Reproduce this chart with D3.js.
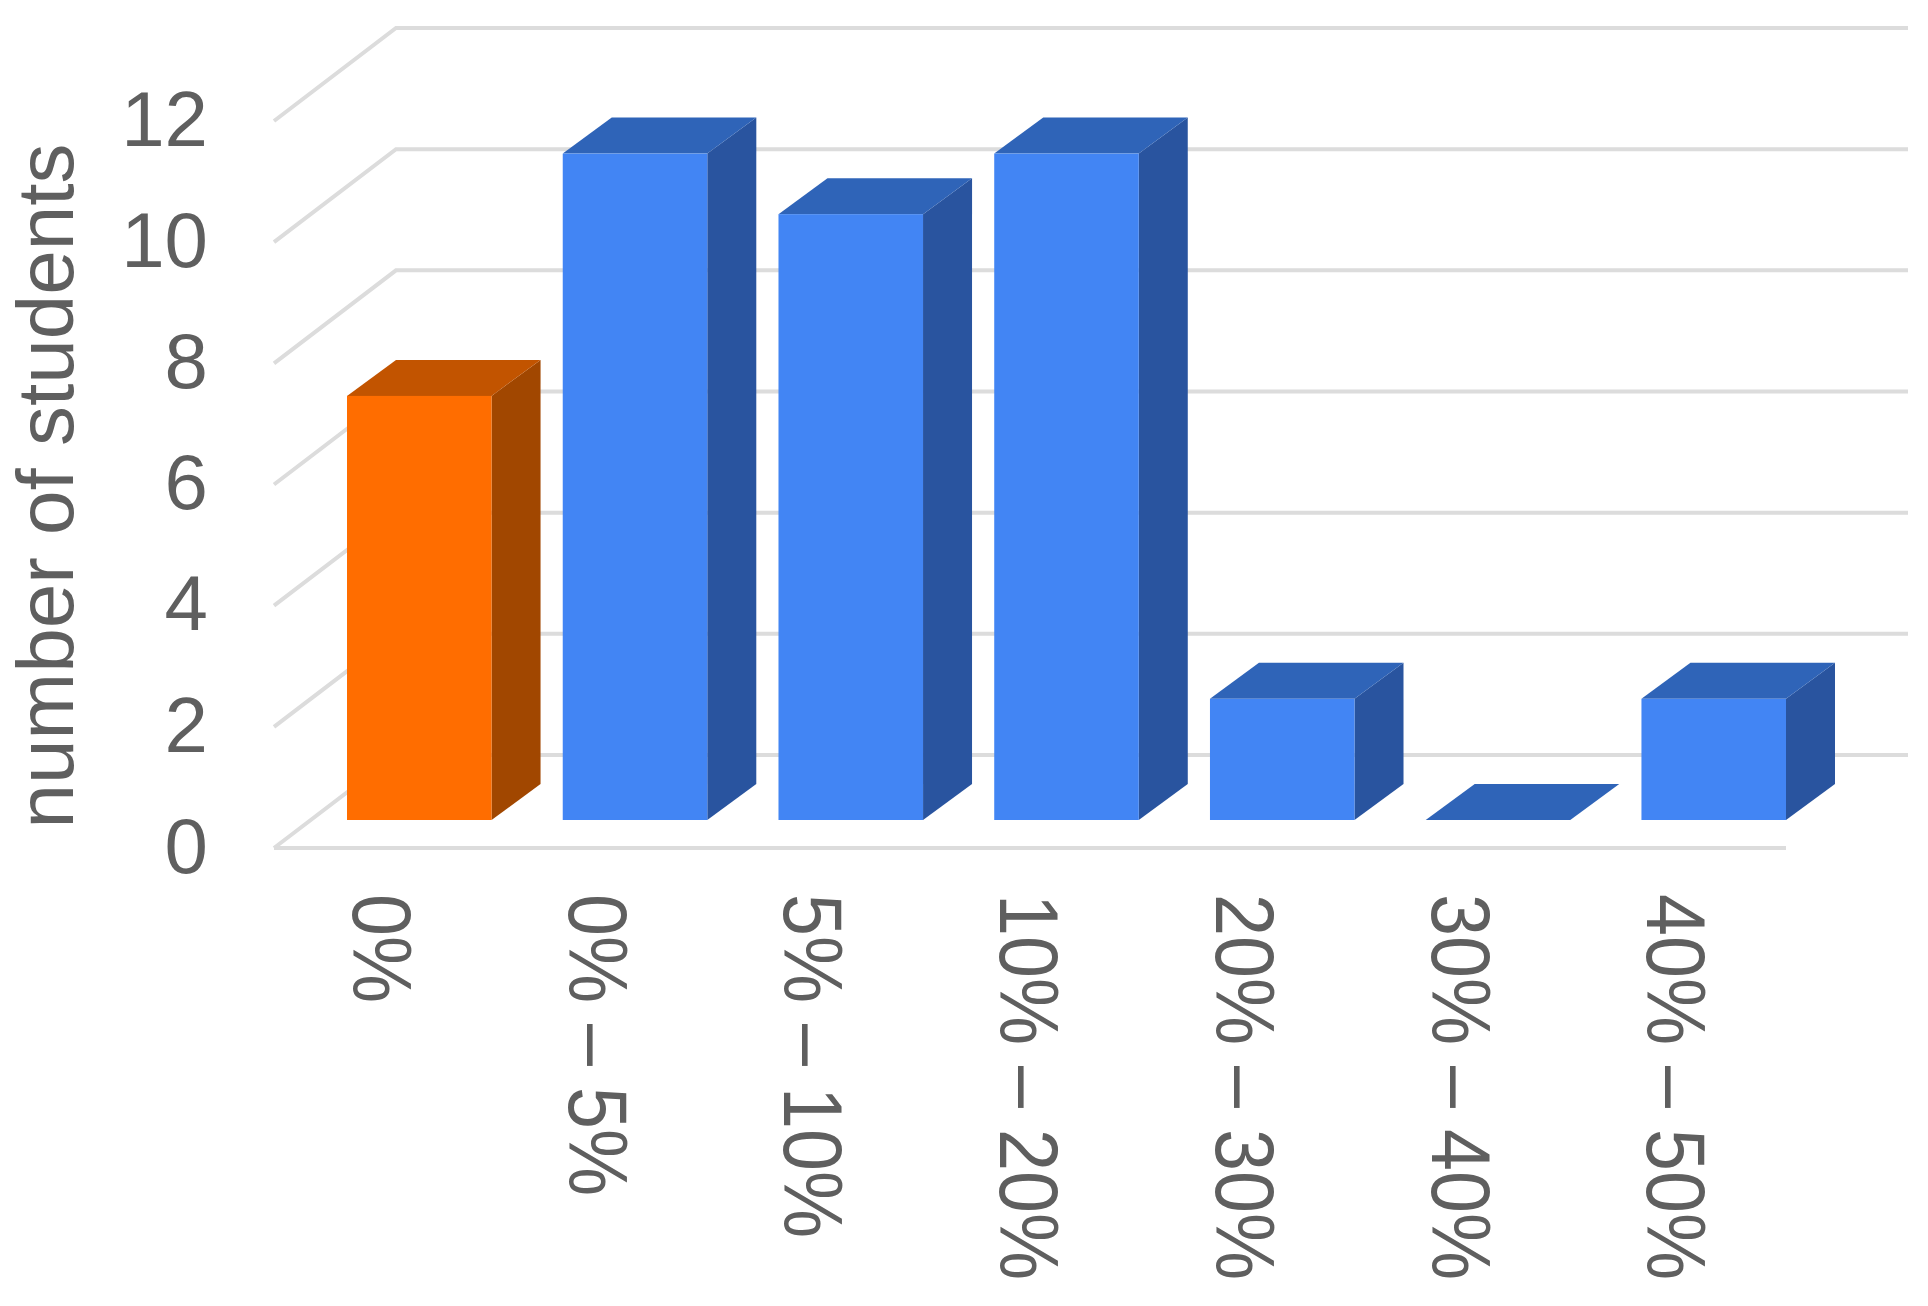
<!DOCTYPE html>
<html>
<head>
<meta charset="utf-8">
<script src="https://cdnjs.cloudflare.com/ajax/libs/d3/7.8.5/d3.min.js"></script>
<style>
  body { margin: 0; background: #fff; overflow: hidden; }
  text { font-family: "Liberation Sans", Arial, sans-serif; fill: #5f5f5f; }
</style>
</head>
<body>
<div id="chart"></div>
<script>
// values
var categories = ["0%", "0% \u2013 5%", "5% \u2013 10%", "10% \u2013 20%", "20% \u2013 30%", "30% \u2013 40%", "40% \u2013 50%"];
var students = [7, 11, 10, 11, 2, 0, 2];
var highlighted = ["0%"];
var yTicks = [0, 2, 4, 6, 8, 10, 12];

var svgWidth = 1928;
var svgHeight = 1306;

// floor front edge, and how far the back wall sits from it
var plot = { left: 274, right: 1786, bottom: 848, top: 121 };
var wall = { dx: 122, dy: -93 };
// bars stand part way back on the floor
var barOffset = { dy: -28 };
var barDepth = { dx: 49, dy: -36 };

var colors = {
    normal: { front: "#4285f4", top: "#2f64b8", side: "#29549f" },
    highlight: { front: "#ff6d00", top: "#c25400", side: "#a14700" }
};

var svg = d3.select("#chart").append("svg")
    .attr("width", svgWidth)
    .attr("height", svgHeight);

var yScale = d3.scaleLinear()
    .domain([0, 12])
    .range([plot.bottom, plot.top]);

var xScale = d3.scaleBand()
    .domain(categories)
    .range([347, plot.right])
    .paddingInner(0.33)
    .paddingOuter(0);

// gridlines: short slanted piece on the side wall, long one on the back wall
var grid = svg.append("g")
    .attr("fill", "none")
    .attr("stroke", "#dcdcdc")
    .attr("stroke-width", 4);

grid.selectAll("path")
    .data(yTicks)
    .enter()
    .append("path")
    .attr("d", d => {
        var y = yScale(d);
        return `M${plot.left},${y}L${plot.left + wall.dx},${y + wall.dy}L${plot.right + wall.dx},${y + wall.dy}`;
    });

grid.append("line")
    .attr("x1", plot.left)
    .attr("x2", plot.right)
    .attr("y1", yScale(0))
    .attr("y2", yScale(0));

function polygon(points)
{
    return points.map(p => p.join(",")).join(" ");
}

var bars = svg.selectAll(".bar")
    .data(categories.map((c, i) => ({ category: c, value: students[i] })))
    .enter()
    .append("g")
    .attr("class", "bar");

function barColor(d)
{
    return highlighted.includes(d.category) ? colors.highlight : colors.normal;
}

function corners(d)
{
    var x0 = xScale(d.category);
    var x1 = x0 + xScale.bandwidth();
    var yTop = yScale(d.value) + barOffset.dy;
    var yBase = yScale(0) + barOffset.dy;
    return { x0: x0, x1: x1, yTop: yTop, yBase: yBase };
}

bars.append("polygon")
    .attr("fill", d => barColor(d).side)
    .attr("points", d => {
        var c = corners(d);
        return polygon([[c.x1, c.yTop], [c.x1 + barDepth.dx, c.yTop + barDepth.dy], [c.x1 + barDepth.dx, c.yBase + barDepth.dy], [c.x1, c.yBase]]);
    });

bars.append("polygon")
    .attr("fill", d => barColor(d).top)
    .attr("points", d => {
        var c = corners(d);
        return polygon([[c.x0, c.yTop], [c.x0 + barDepth.dx, c.yTop + barDepth.dy], [c.x1 + barDepth.dx, c.yTop + barDepth.dy], [c.x1, c.yTop]]);
    });

bars.append("rect")
    .attr("fill", d => barColor(d).front)
    .attr("x", d => corners(d).x0)
    .attr("y", d => corners(d).yTop)
    .attr("width", xScale.bandwidth())
    .attr("height", d => corners(d).yBase - corners(d).yTop);

// axes, only the labels are kept
var yAxis = svg.append("g")
    .attr("transform", `translate(${plot.left}, 0)`)
    .call(d3.axisLeft(yScale).tickValues(yTicks).tickSize(0).tickPadding(66));
yAxis.select(".domain").remove();
yAxis.selectAll("text")
    .attr("font-size", 78)
    .attr("dy", "0.31em");

var xAxis = svg.append("g")
    .attr("transform", `translate(0, ${plot.bottom})`)
    .call(d3.axisBottom(xScale).tickSize(0));
xAxis.select(".domain").remove();
xAxis.selectAll("text")
    .attr("font-size", 75.5)
    .attr("text-anchor", "start")
    .attr("x", 0)
    .attr("y", 0)
    .attr("dy", 0)
    .attr("transform", `translate(${-xScale.bandwidth() / 2 + 6}, 46) rotate(90) scale(1, 1.1)`);

svg.append("text")
    .attr("transform", "translate(73, 486) rotate(-90)")
    .attr("text-anchor", "middle")
    .attr("font-size", 80)
    .text("number of students");
</script>
</body>
</html>
